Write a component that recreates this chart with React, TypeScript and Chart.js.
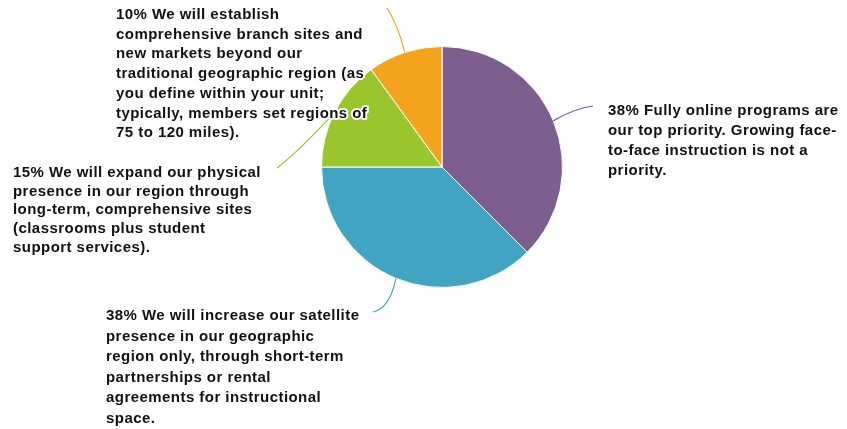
import React, { useEffect, useRef } from "react";
import { Chart, registerables } from "chart.js";

Chart.register(...registerables);

const CATEGORIES = [
  "Fully online programs",
  "Satellite presence",
  "Physical presence",
  "Branch sites and new markets",
];
const VALUES = [37.5, 37.5, 15, 10];
const PERCENT_TEXT = ["38%", "38%", "15%", "10%"];
const LABEL_LINES = [
  ["Fully online programs are", "our top priority. Growing face-", "to-face instruction is not a", "priority."],
  ["We will increase our satellite", "presence in our geographic", "region only, through short-term", "partnerships or rental", "agreements for instructional", "space."],
  ["We will expand our physical", "presence in our region through", "long-term, comprehensive sites", "(classrooms plus student", "support services)."],
  ["We will establish", "comprehensive branch sites and", "new markets beyond our", "traditional geographic region (as", "you define within your unit;", "typically, members set regions of", "75 to 120 miles)."],
];
const COLORS = ["#7C5F8F", "#41A4C3", "#99C62A", "#F4A31D"];

// label placement (style): text x, first baseline y, line height, leader end, leader control
const LABEL_LAYOUT = [
  { x: 608, y: 115, lh: 19.9, ex: 593, ey: 106, cx: 575, cy: 108 },
  { x: 106, y: 320, lh: 20.6, ex: 373, ey: 312, cx: 390, cy: 308 },
  { x: 13, y: 177, lh: 18.7, ex: 277, ey: 168, cx: 300, cy: 150 },
  { x: 116, y: 19, lh: 19.7, ex: 387, ey: 8, cx: 398, cy: 25 },
];

const labelPlugin = {
  id: "leaderLabels",
  afterDraw(chart: any) {
    const ctx = chart.ctx;
    const meta = chart.getDatasetMeta(0);
    ctx.save();
    meta.data.forEach((arc: any, i: number) => {
      const p = arc.getProps(["x", "y", "startAngle", "endAngle", "outerRadius"], true);
      const mid = (p.startAngle + p.endAngle) / 2;
      const sx = p.x + Math.cos(mid) * p.outerRadius;
      const sy = p.y + Math.sin(mid) * p.outerRadius;
      const L = LABEL_LAYOUT[i];
      ctx.beginPath();
      ctx.moveTo(sx, sy);
      ctx.quadraticCurveTo(L.cx, L.cy, L.ex, L.ey);
      ctx.strokeStyle = COLORS[i];
      ctx.lineWidth = 1.2;
      ctx.stroke();
    });
    ctx.font = "bold 15px 'Liberation Sans', Arial, sans-serif";
    (ctx as any).letterSpacing = "0.45px";
    ctx.textBaseline = "alphabetic";
    ctx.textAlign = "left";
    ctx.lineJoin = "round";
    LABEL_LINES.forEach((lines, i) => {
      const L = LABEL_LAYOUT[i];
      lines.forEach((line, j) => {
        const t = j === 0 ? PERCENT_TEXT[i] + " " + line : line;
        const yy = L.y + j * L.lh;
        ctx.strokeStyle = "#ffffff";
        ctx.lineWidth = 4;
        ctx.strokeText(t, L.x, yy);
        ctx.fillStyle = "#111111";
        ctx.fillText(t, L.x, yy);
      });
    });
    ctx.restore();
  },
};

export default function App() {
  const ref = useRef<HTMLCanvasElement>(null);
  useEffect(() => {
    if (!ref.current) return;
    const chart = new Chart(ref.current, {
      type: "pie",
      data: {
        labels: CATEGORIES,
        datasets: [
          {
            data: VALUES,
            backgroundColor: COLORS,
            borderColor: "#ffffff",
            borderWidth: 1,
          },
        ],
      },
      options: {
        responsive: false,
        animation: false,
        layout: { padding: { top: 46, bottom: 141, left: 321, right: 284 } },
        plugins: {
          legend: { display: false },
          tooltip: { enabled: false },
        },
      },
      plugins: [labelPlugin],
    });
    return () => chart.destroy();
  }, []);
  return (
    <div style={{ position: "absolute", left: 0, top: 0, width: 847, height: 429, background: "#fff" }}>
      <canvas ref={ref} width={847} height={429} style={{ width: 847, height: 429 }} />
    </div>
  );
}
